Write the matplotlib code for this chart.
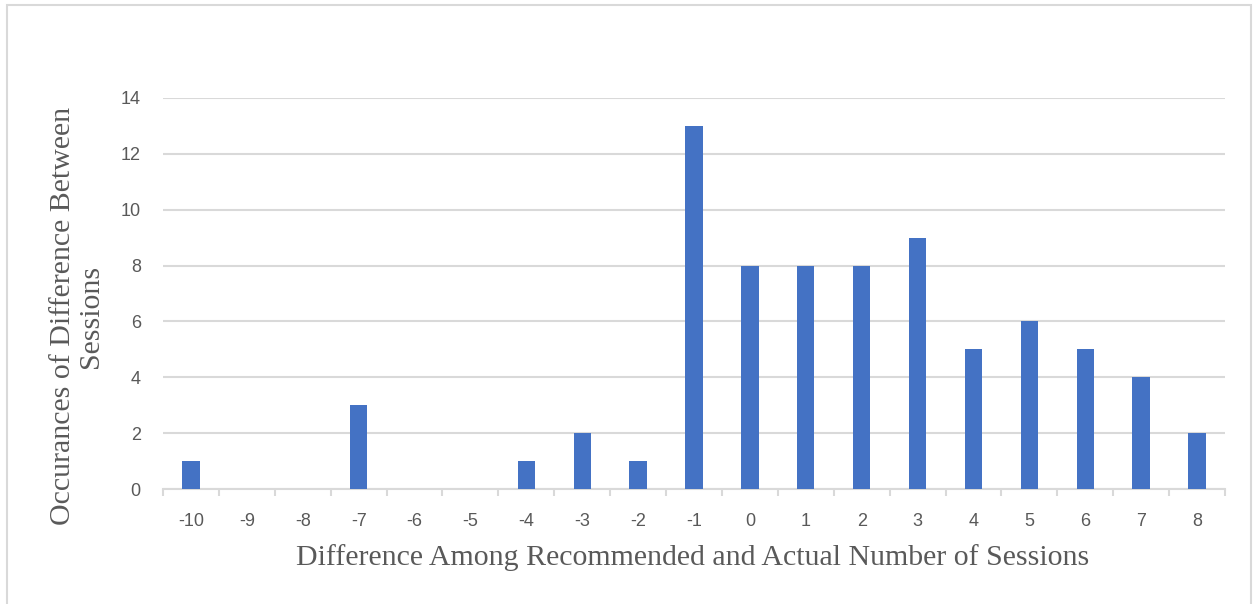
import matplotlib
matplotlib.use("Agg")
import matplotlib.pyplot as plt
from matplotlib.patches import Rectangle

# Data
differences = [-10, -9, -8, -7, -6, -5, -4, -3, -2, -1, 0, 1, 2, 3, 4, 5, 6, 7, 8]
occurrences = [1, 0, 0, 3, 0, 0, 1, 2, 1, 13, 8, 8, 8, 9, 5, 6, 5, 4, 2]
y_ticks = [0, 2, 4, 6, 8, 10, 12, 14]

BAR = "#4472C4"
GRID = "#D9D9D9"
TEXT = "#595959"

W, H = 1254, 604
fig = plt.figure(figsize=(W / 100, H / 100), dpi=100)
fig.patch.set_facecolor("white")

# chart-area border
fig.patches.append(Rectangle((7 / W, -0.05), (1251 - 7) / W, 1.05 - 5 / H,
                             transform=fig.transFigure, fill=False,
                             edgecolor="#D9D9D9", linewidth=1.5))

ax = fig.add_axes([163 / W, 1 - 489 / H, (1225 - 163) / W, (489 - 98) / H])
x = list(range(len(differences)))
ax.bar(x, occurrences, width=0.31, color=BAR, zorder=3)

ax.set_xlim(-0.5, len(differences) - 0.5)
ax.set_ylim(0, 14)
ax.set_yticks(y_ticks)
ax.set_xticks(x)
ax.set_xticklabels([str(d) for d in differences])
ax.set_xticks([i - 0.5 for i in range(len(differences) + 1)], minor=True)

ax.grid(axis="y", color=GRID, linewidth=1.5, zorder=0)
for s in ["top", "right", "left"]:
    ax.spines[s].set_visible(False)
ax.spines["bottom"].set_color(GRID)
ax.spines["bottom"].set_linewidth(1.5)

ax.tick_params(axis="x", which="major", length=0, pad=17, labelsize=13, labelcolor=TEXT)
ax.tick_params(axis="x", which="minor", length=5, width=1.5, color=GRID)
ax.tick_params(axis="y", length=0, pad=16, labelsize=13, labelcolor=TEXT)
for lab in ax.get_xticklabels() + ax.get_yticklabels():
    lab.set_fontfamily("Liberation Sans")

title_font = dict(family="Liberation Serif", size=21.5, color=TEXT)
fig.text(693 / W, 1 - 558 / H, "Difference Among Recommended and Actual Number of Sessions",
         ha="center", va="center", **title_font)
fig.text(77 / W, 1 - 316 / H, "Occurances of Difference Between\nSessions",
         ha="center", va="center", rotation=90, multialignment="center",
         linespacing=1.1, **title_font)

fig.savefig("out.png", dpi=100)
